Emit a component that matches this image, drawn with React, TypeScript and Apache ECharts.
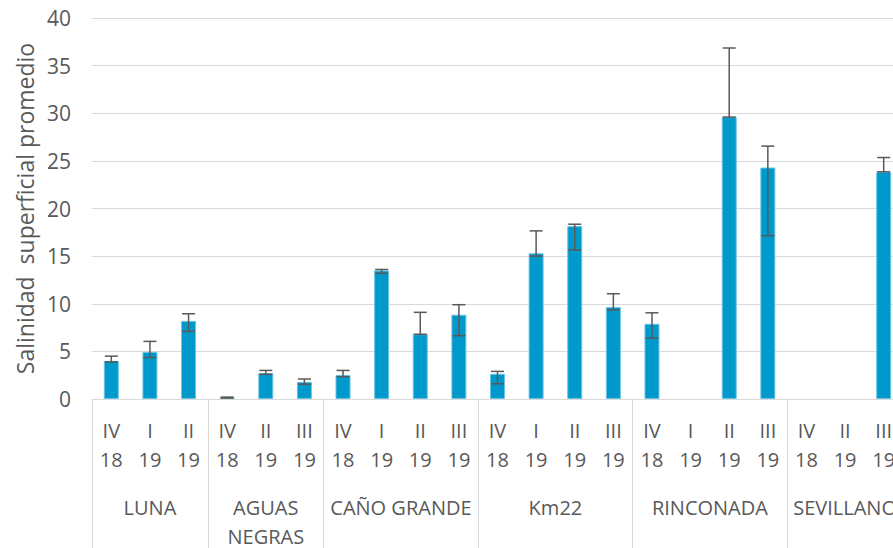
import React, { useEffect, useRef } from "react";
import * as echarts from "echarts";

const periods = [
  "IV\n18", "I\n19", "II\n19",
  "IV\n18", "II\n19", "III\n19",
  "IV\n18", "I\n19", "II\n19", "III\n19",
  "IV\n18", "I\n19", "II\n19", "III\n19",
  "IV\n18", "I\n19", "II\n19", "III\n19",
  "IV\n18", "II\n19", "III\n19",
];
const siteNames = ["LUNA", "AGUAS\nNEGRAS", "CAÑO GRANDE", "Km22", "RINCONADA", "SEVILLANO"];
const siteSizes = [3, 3, 4, 4, 4, 3];

const values = [
  4.0, 4.95, 8.2,
  0.15, 2.7, 1.8,
  2.5, 13.5, 6.8, 8.85,
  2.65, 15.3, 18.15, 9.65,
  7.9, null, 29.6, 24.3,
  null, null, 23.85,
];
const errHigh = [
  4.5, 6.05, 8.95,
  0.2, 3.0, 2.1,
  3.0, 13.6, 9.1, 9.9,
  2.9, 17.65, 18.35, 11.05,
  9.05, null, 36.85, 26.55,
  null, null, 25.35,
];
const errLow = [
  3.9, 4.35, 7.1,
  0.1, 2.6, 1.55,
  2.35, 13.2, 6.8, 6.65,
  1.6, 15.0, 15.65, 9.35,
  6.4, null, 29.6, 17.15,
  null, null, 23.85,
];

const yTicks = { min: 0, max: 40, interval: 5 };
const yName = "Salinidad  superficial promedio";

export default function App() {
  const ref = useRef<HTMLDivElement>(null);
  useEffect(() => {
    if (!ref.current) return;
    const chart = echarts.init(ref.current, null, { renderer: "svg" });

    const boundaries: number[] = [0];
    const centers: number[] = [];
    let acc = 0;
    siteSizes.forEach((s) => {
      centers.push(acc + s / 2);
      acc += s;
      boundaries.push(acc);
    });
    const total = acc;

    const errData = periods.map((_, i) =>
      errHigh[i] == null ? [i, null, null] : [i, errLow[i], errHigh[i]]
    );

    const textColor = "#595959";
    const font = "'Open Sans', 'Liberation Sans', sans-serif";

    chart.setOption({
      animation: false,
      textStyle: { fontFamily: font },
      grid: {
        left: 92,
        right: -10,
        top: 18,
        bottom: 149,
        containLabel: false,
        outerBoundsMode: "none",
      },
      xAxis: [
        {
          type: "category",
          data: periods,
          position: "bottom",
          axisLine: { show: true, lineStyle: { color: "#d9d9d9", width: 1 } },
          axisTick: { show: false },
          axisLabel: {
            interval: 0,
            color: textColor,
            fontSize: 20,
            lineHeight: 29,
            margin: 17,
            fontFamily: font,
          },
        },
        {
          type: "value",
          min: 0,
          max: total,
          position: "bottom",
          axisLine: { show: false },
          splitLine: { show: false },
          axisTick: {
            show: true,
            customValues: boundaries,
            length: 150,
            inside: false,
            lineStyle: { color: "#d9d9d9", width: 1 },
          },
          axisLabel: {
            show: true,
            customValues: centers,
            formatter: (v: number) => {
              const idx = centers.findIndex((c) => Math.abs(c - v) < 1e-6);
              return idx >= 0 ? siteNames[idx] : "";
            },
            color: textColor,
            fontSize: 20,
            lineHeight: 29,
            margin: 94,
            fontFamily: font,
          },
        },
      ],
      yAxis: {
        type: "value",
        min: yTicks.min,
        max: yTicks.max,
        interval: yTicks.interval,
        name: yName,
        nameLocation: "middle",
        nameGap: 56,
        nameRotate: 90,
        nameTextStyle: { color: textColor, fontSize: 23, fontFamily: font },
        axisLine: { show: false },
        axisTick: { show: false },
        axisLabel: { color: textColor, fontSize: 21, margin: 21, fontFamily: font },
        splitLine: { lineStyle: { color: "#d9d9d9", width: 1 } },
      },
      series: [
        {
          type: "bar",
          data: values,
          barWidth: 15,
          itemStyle: { color: "#0099CC", borderColor: "#6cc4e4", borderWidth: 1 },
          xAxisIndex: 0,
          yAxisIndex: 0,
        },
        {
          type: "custom",
          xAxisIndex: 0,
          yAxisIndex: 0,
          data: errData,
          z: 10,
          renderItem: (params: any, api: any) => {
            const lo = api.value(1);
            const hi = api.value(2);
            if (lo == null || hi == null || isNaN(lo) || isNaN(hi)) return null;
            const x = api.value(0);
            const pHi = api.coord([x, hi]);
            const pLo = api.coord([x, lo]);
            const hw = 6.5;
            const style = { stroke: "#595959", lineWidth: 1.5, fill: "none" };
            const children: any[] = [
              { type: "line", shape: { x1: pHi[0], y1: pHi[1], x2: pLo[0], y2: pLo[1] }, style },
              { type: "line", shape: { x1: pHi[0] - hw, y1: pHi[1], x2: pHi[0] + hw, y2: pHi[1] }, style },
              { type: "line", shape: { x1: pLo[0] - hw, y1: pLo[1], x2: pLo[0] + hw, y2: pLo[1] }, style },
            ];
            return { type: "group", children };
          },
        },
      ],
    });
    return () => chart.dispose();
  }, []);
  return (
    <div
      ref={ref}
      style={{ position: "absolute", left: 0, top: 0, width: 893, height: 548, background: "#fff" }}
    />
  );
}
